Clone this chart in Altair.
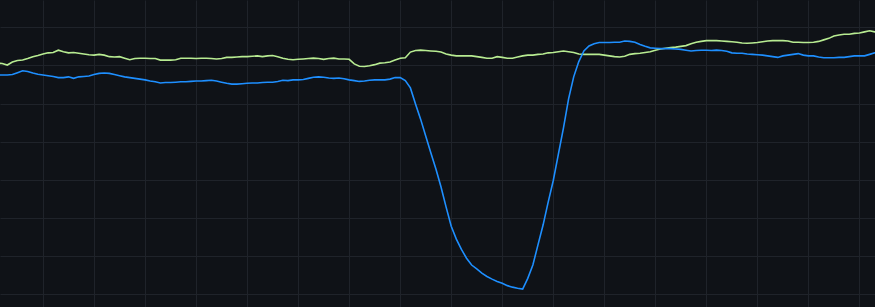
import altair as alt
import pandas as pd

# time index (seconds)
t = list(range(1, 175))

green = [
    60.6, 60.5, 60.1, 60.9, 61.3, 61.4, 61.8, 62.3, 62.6, 63.0,
    63.3, 63.4, 64.0, 63.6, 63.3, 63.4, 63.2, 63.0, 62.8, 62.7,
    62.9, 62.7, 62.3, 62.2, 62.3, 61.9, 61.5, 61.8, 61.9, 61.9,
    61.8, 61.8, 61.4, 61.4, 61.4, 61.5, 61.9, 61.9, 61.9, 61.8,
    61.9, 61.9, 61.8, 61.7, 61.8, 62.1, 62.1, 62.2, 62.3, 62.3,
    62.4, 62.5, 62.3, 62.5, 62.6, 62.3, 61.9, 61.6, 61.5, 61.6,
    61.7, 61.8, 61.9, 61.8, 61.6, 61.8, 61.9, 61.7, 61.7, 61.6,
    60.4, 59.8, 59.7, 59.9, 60.2, 60.6, 60.7, 60.9, 61.4, 61.9,
    62.0, 63.5, 63.9, 64.0, 63.9, 63.8, 63.7, 63.5, 63.0, 62.7,
    62.5, 62.5, 62.5, 62.5, 62.3, 62.1, 61.9, 61.9, 62.3, 62.1,
    61.9, 61.9, 62.2, 62.5, 62.7, 62.7, 62.9, 63.0, 63.3, 63.4,
    63.6, 63.8, 63.6, 63.4, 63.0, 62.9, 62.9, 62.9, 62.9, 62.7,
    62.5, 62.3, 62.2, 62.4, 62.9, 63.1, 63.2, 63.4, 63.6, 64.0,
    64.3, 64.5, 64.7, 64.8, 65.0, 65.2, 65.7, 66.1, 66.3, 66.5,
    66.5, 66.5, 66.4, 66.3, 66.2, 66.1, 65.9, 65.8, 65.9, 66.0,
    66.2, 66.4, 66.5, 66.5, 66.5, 66.4, 66.1, 66.1, 66.0, 66.0,
    66.1, 66.3, 66.7, 67.1, 67.7, 68.0, 68.2, 68.2, 68.4, 68.5,
    68.8, 69.1, 68.8, 68.8,
]

blue = [
    57.5, 57.5, 57.5, 57.6, 58.1, 58.6, 58.4, 58.0, 57.7, 57.5,
    57.3, 57.1, 56.8, 56.8, 57.0, 56.6, 57.0, 57.1, 57.2, 57.6,
    57.9, 58.0, 57.9, 57.6, 57.3, 57.0, 56.8, 56.6, 56.4, 56.2,
    55.9, 55.7, 55.4, 55.5, 55.5, 55.6, 55.7, 55.7, 55.8, 55.9,
    55.9, 56.0, 56.1, 55.9, 55.6, 55.3, 55.1, 55.1, 55.2, 55.3,
    55.4, 55.4, 55.5, 55.6, 55.6, 55.8, 56.1, 56.0, 56.2, 56.2,
    56.3, 56.6, 56.9, 57.0, 56.9, 56.7, 56.6, 56.7, 56.5, 56.2,
    56.0, 55.8, 55.9, 56.1, 56.2, 56.2, 56.2, 56.4, 56.8, 56.8,
    56.0, 54.1, 49.9, 45.9, 41.5, 37.1, 32.8, 28.1, 22.8, 17.8,
    14.4, 11.7, 9.4, 7.6, 6.6, 5.5, 4.6, 3.9, 3.3, 2.8,
    2.2, 1.8, 1.5, 1.3, 4.1, 7.6, 12.9, 18.1, 24.1, 29.8,
    36.7, 43.6, 51.2, 57.0, 61.0, 63.8, 65.1, 65.7, 66.0, 66.0,
    66.0, 66.1, 66.1, 66.4, 66.3, 66.1, 65.5, 65.0, 64.6, 64.5,
    64.4, 64.4, 64.4, 64.3, 64.2, 64.0, 63.8, 63.9, 64.0, 64.0,
    63.9, 64.0, 63.9, 63.7, 63.3, 63.2, 63.2, 63.0, 62.9, 62.8,
    62.7, 62.5, 62.3, 62.1, 62.5, 62.7, 62.9, 63.1, 62.7, 62.5,
    62.5, 62.2, 62.0, 62.0, 62.0, 62.1, 62.1, 62.3, 62.5, 62.5,
    62.5, 62.9, 63.3, 63.4,
]

series_names = ["A", "B"]
series_colors = ["#b8ec92", "#1e8fff"]

x_ticks = [10, 20, 30, 40, 50, 60, 70, 80, 90, 100, 110, 120, 130, 140, 150, 160, 170]
y_ticks = [0, 10, 20, 30, 40, 50, 60, 70]

df = pd.concat([
    pd.DataFrame({"t": t, "v": green, "s": series_names[0]}),
    pd.DataFrame({"t": t, "v": blue, "s": series_names[1]}),
])

chart = alt.Chart(df).mark_line(strokeWidth=1.6, clip=True).encode(
    x=alt.X("t:Q",
            scale=alt.Scale(domain=[1.57, 173.05], nice=False, zero=False),
            axis=alt.Axis(values=x_ticks, labels=False, ticks=False, title=None,
                          domain=True, domainColor="#3a3d42", domainWidth=1,
                          grid=True, gridColor="#1f232a", gridWidth=1)),
    y=alt.Y("v:Q",
            scale=alt.Scale(domain=[-3.41, 77.17], nice=False, zero=False),
            axis=alt.Axis(values=y_ticks, labels=False, ticks=False, title=None,
                          domain=False, grid=True, gridColor="#1f232a", gridWidth=1)),
    color=alt.Color("s:N", scale=alt.Scale(domain=series_names, range=series_colors), legend=None),
).properties(
    width=875, height=307, background="#0f1217", padding=0,
    autosize=alt.AutoSizeParams(type="none"),
).configure_view(stroke=None)

chart.save("out.html", embed_options={"renderer": "svg", "actions": False})
